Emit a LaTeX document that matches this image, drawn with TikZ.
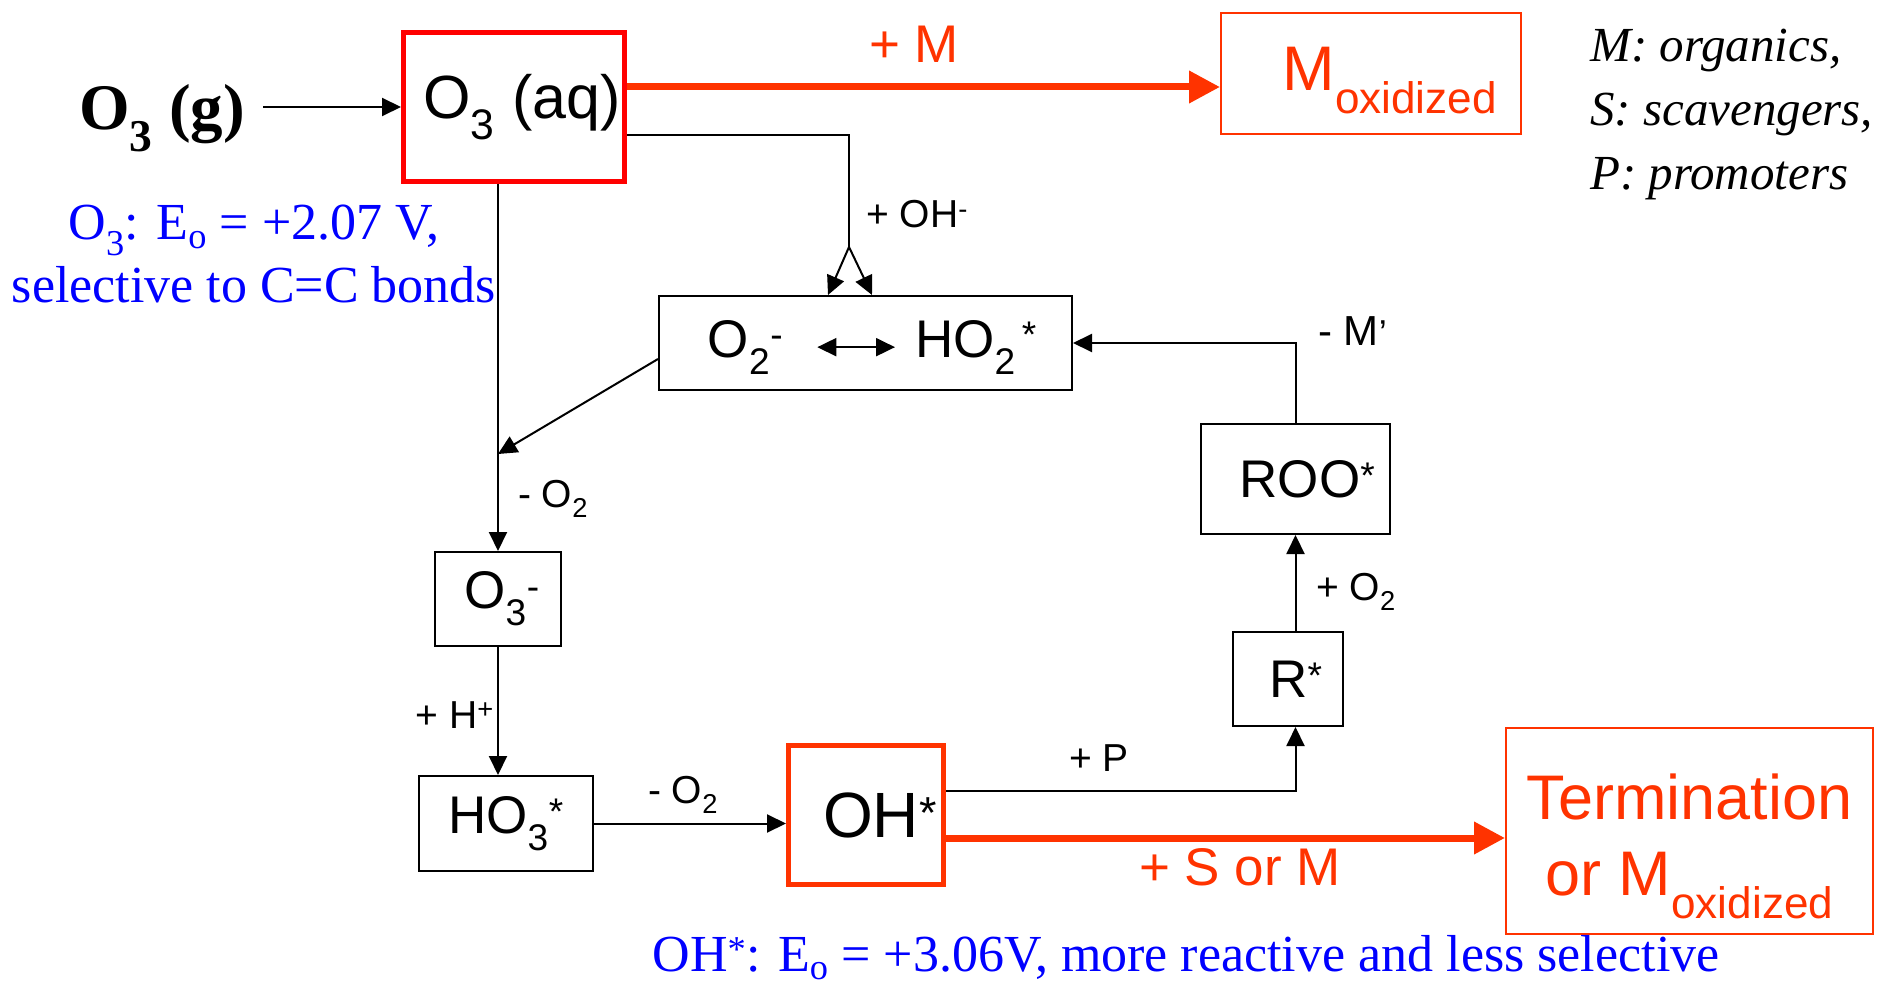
\documentclass[tikz,border=0pt]{standalone}
\usepackage{fontspec}
\setmainfont{Liberation Serif}
\setsansfont{Liberation Sans}
\usetikzlibrary{arrows.meta, calc}
\definecolor{oRed}{HTML}{FF0000}
\definecolor{oOrange}{HTML}{FF3300}
\definecolor{oBlue}{HTML}{0000FF}

\begin{document}
\begin{tikzpicture}[
  x=1pt, y=-1pt,
  every node/.style={font=\sffamily, inner sep=0pt},
  specbox/.style={draw, line width=2pt, font=\sffamily\fontsize{53}{64}\selectfont},
  spectxt/.style={font=\sffamily\fontsize{53}{64}\selectfont, anchor=base},
  hotbox/.style={draw=oOrange, line width=5pt, font=\sffamily\fontsize{64}{77}\selectfont},
  endbox/.style={draw=oOrange, line width=2pt, text=oOrange,
                 font=\sffamily\fontsize{63}{76}\selectfont},
  lbl/.style={font=\sffamily\fontsize{39}{47}\selectfont, anchor=base west},
  hotlbl/.style={text=oOrange, font=\sffamily\fontsize{53}{64}\selectfont, anchor=base},
  note/.style={text=oBlue, font=\rmfamily\fontsize{52}{63}\selectfont},
  wire/.style={line width=2pt},
  link/.style={wire, ->},
  fat/.style={-{Triangle[length=31pt, width=31pt]}, line width=7pt, oOrange},
  >={Triangle[length=19pt, width=18pt]},
]
  \useasboundingbox (0,0) rectangle (1898,984);

  % Ozone transfer
  \node[font=\rmfamily\bfseries\fontsize{65}{78}\selectfont, anchor=base,
        inner xsep=18pt] (gas) at (162,130) {O\textsubscript{3} (g)};
  \node[hotbox, draw=oRed, minimum width=221pt, minimum height=149pt,
        font=\sffamily\fontsize{61}{73}\selectfont]
    (aq) at (514,107) {\hspace*{16pt}O\textsubscript{3} (aq)};
  \draw[link] (gas.east |- aq.west) -- (aq.west);
  \node[note, align=center, anchor=north] (eo3) at (254,205)
    {O\textsubscript{3}: E\textsubscript{o} = +2.07 V,\\selective to C=C bonds};

  % Direct reaction
  \node[endbox, minimum width=300pt, minimum height=121pt]
    (mox) at (1371,73.5) {\hspace*{38pt}\rule{0pt}{57pt}M\textsubscript{oxidized}};
  \draw[fat] ([yshift=20pt]aq.east) -- ([yshift=20pt]aq.east -| mox.west);
  \node[hotlbl] (lm) at (914,63) {+ M};
  \node[font=\rmfamily\itshape\fontsize{49}{64}\selectfont, align=left,
        anchor=north west] (key) at (1590,29)
    {M: organics,\\S: scavengers,\\P: promoters};

  % Superoxide
  \node[specbox, minimum width=413pt, minimum height=94pt] (sup) at (865.5,343) {};
  \node[spectxt] (o2m) at (745.5,357) {O\textsubscript{2}\textsuperscript{-}};
  \node[spectxt] (ho2) at (976,357) {HO\textsubscript{2}\hspace{6pt}\textsuperscript{*}};
  \draw[wire, <->] ($(o2m.east)+(34,0)$) -- ($(o2m.east -| ho2.west)+(-20,0)$);

  \coordinate (split) at (849,247);
  \draw[wire] ([yshift=-28pt]aq.east) -| (split);
  \draw[link] (split) -- ([xshift=-37.5pt]sup.north);
  \draw[link] (split) -- ([xshift=6.5pt]sup.north);
  \node[lbl] (loh) at (866,228) {+ OH\textsuperscript{-}};

  % Ozonide path
  \node[specbox, minimum width=126pt, minimum height=94pt] (ozm) at (498,599)
    {\hspace*{8pt}O\textsubscript{3}\textsuperscript{-}};
  \node[specbox, minimum width=174pt, minimum height=95pt] (hot) at (506,823.5)
    {HO\textsubscript{3}\textsuperscript{*}};
  \node[hotbox, minimum width=155pt, minimum height=139pt] (oh) at (866,815)
    {\hspace*{28pt}OH\textsuperscript{*}};

  \coordinate (jn) at (498,454);
  \draw[link] ([yshift=-16pt]sup.west) -- (jn);
  \draw[link] (aq.south -| ozm.north) -- (ozm.north);
  \node[lbl] (lo2a) at (518,507) {- O\textsubscript{2}};
  \draw[link] (ozm.south) -- (ozm.south |- hot.north);
  \node[lbl, anchor=base east] (lh) at (494,728) {+ H\textsuperscript{+}};
  \draw[link] (hot.east) -- (hot.east -| oh.west);
  \node[lbl] (lo2b) at (648,803) {- O\textsubscript{2}};

  % Promotion
  \node[specbox, minimum width=110pt, minimum height=94pt] (r) at (1288,679)
    {\hspace*{16pt}R\textsuperscript{*}};
  \node[specbox, minimum width=189pt, minimum height=110pt] (roo) at (1295.5,479)
    {\hspace*{24pt}ROO\textsuperscript{*}};
  \draw[link] ([yshift=24pt]oh.east) -| (r.south -| roo.south);
  \node[lbl] (lp) at (1069,771) {+ P};
  \draw[link] (r.north -| roo.south) -- (roo.south);
  \node[lbl] (lo2c) at (1316,600) {+ O\textsubscript{2}};
  \draw[link] (roo.north) |- (sup.east);
  \node[lbl, font=\sffamily\fontsize{42}{50}\selectfont] (lmp) at (1318,345)
    {- M{\fontsize{36}{36}\selectfont ’}};

  % Termination
  \node[endbox, minimum width=367pt, minimum height=206pt, align=center]
    (term) at (1689.5,831) {\rule{0pt}{76pt}Termination\\or M\textsubscript{oxidized}};
  \draw[fat] ([yshift=-23pt]oh.east) -- ([yshift=-23pt]oh.east -| term.west);
  \node[hotlbl] (lsm) at (1240,885) {+ S or M};

  \node[note, anchor=base] (eoh) at (1186,971)
    {OH\textsuperscript{*}: E\textsubscript{o} = +3.06V, more reactive and less selective};
\end{tikzpicture}
\end{document}
